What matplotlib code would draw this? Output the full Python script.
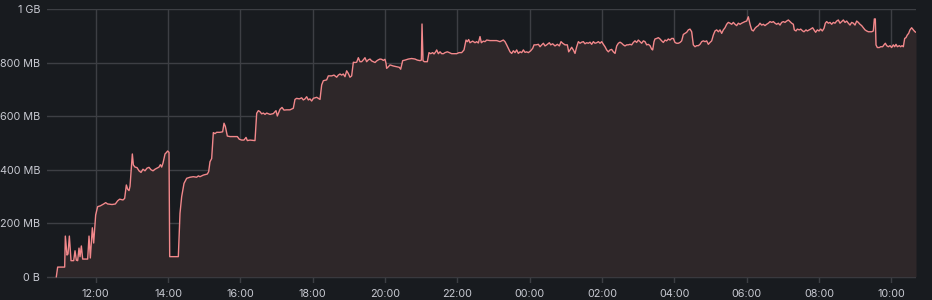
import matplotlib
matplotlib.use("Agg")
import matplotlib.pyplot as plt

# ---- data: hours since day-1 00:00 and memory in MB ----
hours = [
    10.911, 10.948, 11.142, 11.160, 11.206, 11.234, 11.271, 11.317, 11.391, 11.428, 11.464, 11.501, 11.538, 11.566, 11.603, 11.640, 11.741, 11.778, 11.815, 11.851, 11.907, 11.944, 11.999,
    12.054, 12.128, 12.220, 12.276, 12.331, 12.451, 12.543, 12.608, 12.663, 12.755, 12.801, 12.847, 12.884, 12.921, 12.949, 13.013, 13.041, 13.087, 13.142, 13.197, 13.253, 13.308, 13.363, 13.419, 13.474, 13.529, 13.585, 13.640, 13.695, 13.751, 13.788, 13.825, 13.861, 13.917, 13.953, 13.990, 14.027, 14.046,
    14.082, 14.285, 14.331, 14.377, 14.442, 14.516, 14.608, 14.700, 14.792, 14.838, 14.884, 14.976, 15.087, 15.124, 15.161, 15.207, 15.253, 15.299, 15.345, 15.437, 15.511, 15.548, 15.585, 15.640, 15.714, 15.806, 15.917, 15.972, 16.037, 16.101, 16.157, 16.193, 16.267, 16.405, 16.452, 16.498, 16.544, 16.590, 16.636, 16.682, 16.728,
    16.820, 16.912, 16.986, 17.023, 17.097, 17.152, 17.207, 17.281, 17.373, 17.465, 17.511, 17.557, 17.631, 17.696, 17.742, 17.788, 17.834, 17.880, 17.926, 17.972, 18.018, 18.111, 18.157, 18.203, 18.249, 18.295, 18.387, 18.433, 18.479, 18.525, 18.590, 18.664, 18.710, 18.756, 18.802, 18.848, 18.894, 18.940, 18.986, 19.032, 19.078, 19.125, 19.171, 19.217, 19.263, 19.309, 19.355, 19.401, 19.447, 19.493, 19.539, 19.585, 19.631, 19.678, 19.724, 19.770, 19.816, 19.862, 19.908, 19.954, 20.000, 20.028, 20.046, 20.092,
    20.139, 20.231, 20.323, 20.397, 20.434, 20.489, 20.554, 20.646, 20.738, 20.830, 20.895, 20.969, 21.006, 21.024, 21.052, 21.088, 21.171, 21.217, 21.264, 21.319, 21.356, 21.402, 21.430, 21.476, 21.522, 21.568, 21.614, 21.660, 21.725, 21.780, 21.844, 21.909, 21.983, 22.047, 22.121, 22.185, 22.241, 22.278, 22.314, 22.351, 22.425, 22.490, 22.536, 22.582, 22.628, 22.665, 22.720, 22.766, 22.812, 22.905, 22.997, 23.089, 23.181, 23.273, 23.319, 23.365, 23.411,
    23.458, 23.504, 23.550, 23.596, 23.642, 23.688, 23.735, 23.781, 23.827, 23.873, 23.919, 23.965, 24.030, 24.085, 24.122, 24.177, 24.242, 24.288, 24.334, 24.380, 24.426, 24.472, 24.546, 24.583, 24.638, 24.702, 24.767, 24.822, 24.868, 24.914, 24.979, 25.043, 25.080, 25.117, 25.163, 25.209, 25.255, 25.302, 25.348, 25.394, 25.440, 25.486, 25.532, 25.578, 25.624, 25.670, 25.716, 25.763, 25.809, 25.855, 25.901, 25.947, 25.993, 26.039, 26.085, 26.131, 26.177, 26.223, 26.269, 26.316, 26.362, 26.408, 26.454, 26.500, 26.546, 26.592, 26.638, 26.684, 26.730,
    26.776, 26.822, 26.868, 26.914, 26.960, 27.006, 27.053, 27.099, 27.145, 27.191, 27.237, 27.283, 27.329, 27.375, 27.403, 27.440, 27.467, 27.513, 27.560, 27.606, 27.652, 27.698, 27.744, 27.790, 27.836, 27.882, 27.928, 27.974, 28.020, 28.066, 28.113, 28.159, 28.205, 28.251, 28.297, 28.343, 28.389, 28.435, 28.481, 28.527, 28.574, 28.620, 28.666, 28.712, 28.758, 28.804, 28.850, 28.896, 28.942, 28.988, 29.035, 29.081, 29.127, 29.173, 29.219, 29.265, 29.311, 29.357, 29.403, 29.449, 29.495, 29.542, 29.588, 29.634, 29.680, 29.726, 29.772, 29.818, 29.864, 29.910, 29.956, 30.002, 30.048, 30.095, 30.141, 30.187, 30.233, 30.279, 30.325,
    30.371, 30.417, 30.463, 30.509, 30.555, 30.602, 30.648, 30.694, 30.740, 30.786, 30.832, 30.878, 30.924, 30.970, 31.016, 31.062, 31.108, 31.155, 31.201, 31.247, 31.293, 31.320, 31.367, 31.403, 31.459, 31.496, 31.551, 31.588, 31.643, 31.680, 31.735, 31.772, 31.827, 31.864, 31.910, 31.956, 32.003, 32.049, 32.095, 32.141, 32.178, 32.215, 32.261, 32.307, 32.353, 32.399, 32.445, 32.491, 32.537, 32.583, 32.629, 32.676, 32.722, 32.768, 32.814, 32.860, 32.906, 32.952, 32.998, 33.044, 33.090, 33.136, 33.182, 33.229, 33.275, 33.321, 33.367, 33.413, 33.459, 33.505, 33.533, 33.560, 33.579, 33.616, 33.671, 33.708, 33.763, 33.800, 33.837, 33.874, 33.920, 33.966, 34.012, 34.058, 34.095, 34.132, 34.169, 34.224, 34.261, 34.298, 34.335, 34.372, 34.408, 34.445, 34.482, 34.519, 34.565, 34.611, 34.657, 34.685,
]
memory_mb = [
    0, 36, 36, 152, 81, 85, 152, 60, 60, 97, 62, 60, 107, 75, 115, 66, 66, 66, 152, 70, 183, 126, 231,
    262, 265, 272, 277, 272, 270, 272, 284, 290, 287, 293, 343, 327, 322, 338, 459, 418, 410, 408, 396, 390, 402, 396, 406, 409, 400, 396, 402, 406, 410, 419, 410, 425, 459, 464, 470, 465, 75,
    75, 75, 237, 299, 349, 368, 372, 374, 372, 377, 374, 380, 384, 393, 430, 442, 539, 535, 540, 540, 542, 574, 562, 526, 524, 524, 524, 514, 511, 511, 521, 509, 511, 509, 611, 621, 617, 609, 612, 607, 612,
    607, 610, 621, 601, 626, 633, 623, 624, 624, 630, 663, 667, 665, 669, 661, 665, 673, 661, 665, 657, 667, 671, 667, 663, 717, 733, 736, 751, 751, 751, 754, 746, 754, 758, 754, 758, 748, 770, 760, 746, 751, 802, 801, 802, 819, 804, 804, 811, 819, 804, 811, 814, 807, 804, 801, 807, 811, 814, 813, 809, 813, 798, 779, 785,
    792, 788, 785, 783, 776, 808, 810, 814, 816, 814, 810, 808, 810, 945, 808, 804, 804, 838, 834, 838, 833, 841, 848, 834, 841, 834, 834, 838, 841, 838, 834, 834, 834, 838, 838, 848, 885, 879, 887, 875, 881, 875, 879, 874, 898, 875, 881, 879, 885, 883, 883, 883, 879, 885, 879, 867, 854,
    841, 835, 845, 838, 848, 835, 841, 838, 848, 839, 841, 838, 845, 854, 867, 867, 869, 860, 867, 873, 863, 867, 875, 867, 871, 863, 869, 863, 879, 873, 867, 867, 841, 848, 858, 848, 835, 860, 879, 873, 877, 879, 871, 875, 873, 877, 869, 879, 873, 875, 879, 873, 879, 869, 860, 848, 841, 848, 850, 841, 835, 863, 873, 877, 873, 867, 863, 867, 867,
    869, 867, 876, 882, 876, 885, 879, 873, 882, 879, 867, 869, 864, 851, 848, 879, 889, 891, 894, 889, 882, 876, 885, 882, 889, 885, 891, 891, 876, 873, 873, 876, 882, 906, 910, 914, 923, 926, 916, 867, 860, 864, 864, 869, 879, 882, 879, 882, 869, 876, 882, 904, 919, 923, 916, 923, 910, 923, 931, 944, 951, 948, 944, 951, 944, 939, 948, 944, 948, 951, 954, 956, 972, 944, 923, 919, 929, 935, 939,
    948, 941, 944, 939, 944, 948, 954, 951, 954, 948, 944, 948, 941, 951, 954, 951, 956, 960, 954, 948, 944, 923, 919, 926, 923, 926, 919, 916, 923, 919, 923, 926, 931, 923, 914, 923, 919, 926, 919, 929, 948, 954, 948, 951, 944, 951, 948, 956, 960, 948, 954, 960, 951, 956, 948, 941, 951, 948, 941, 956, 951, 944, 939, 931, 923, 919, 916, 916, 916, 919, 964, 964, 867, 857, 857, 860, 860, 867, 873, 864, 860, 864, 857, 867, 860, 869, 860, 864, 860, 864, 860, 891, 894, 904, 910, 923, 931, 923, 916, 914,
]

y_ticks = [0, 200, 400, 600, 800, 1000]
y_labels = ["0 B", "200 MB", "400 MB", "600 MB", "800 MB", "1 GB"]
x_ticks = [12, 14, 16, 18, 20, 22, 24, 26, 28, 30, 32, 34]
x_labels = ["12:00", "14:00", "16:00", "18:00", "20:00", "22:00",
            "00:00", "02:00", "04:00", "06:00", "08:00", "10:00"]

BG = "#181b1f"
GRID = "#3d3f44"
TEXT = "#c7c9d1"
LINE = "#f2888b"
FILL = "#2e2729"

plt.rcParams["font.family"] = ["Inter", "DejaVu Sans"]

fig = plt.figure(figsize=(9.32, 3.0), dpi=100, facecolor=BG)
ax = fig.add_axes([47 / 932, 1 - 283 / 300, (916 - 47) / 932, (283 - 9.3) / 300])
ax.set_facecolor(BG)

ax.fill_between(hours, memory_mb, 0, color=FILL, linewidth=0, zorder=2)
ax.plot(hours, memory_mb, color=LINE, linewidth=1.0, zorder=3)

ax.set_xlim(10.653, 34.685)
ax.set_ylim(-23.5, 1000)
ax.set_xticks(x_ticks)
ax.set_xticklabels(x_labels)
ax.set_yticks(y_ticks)
ax.set_yticklabels(y_labels)

ax.grid(True, color=GRID, linewidth=1.0, zorder=1)
ax.set_axisbelow(True)
for s in ax.spines.values():
    s.set_visible(False)
ax.tick_params(axis="both", length=0, colors=TEXT, labelsize=7.8)
ax.tick_params(axis="y", pad=5)
ax.tick_params(axis="x", pad=4)

fig.savefig("out.png", dpi=100, facecolor=BG)
